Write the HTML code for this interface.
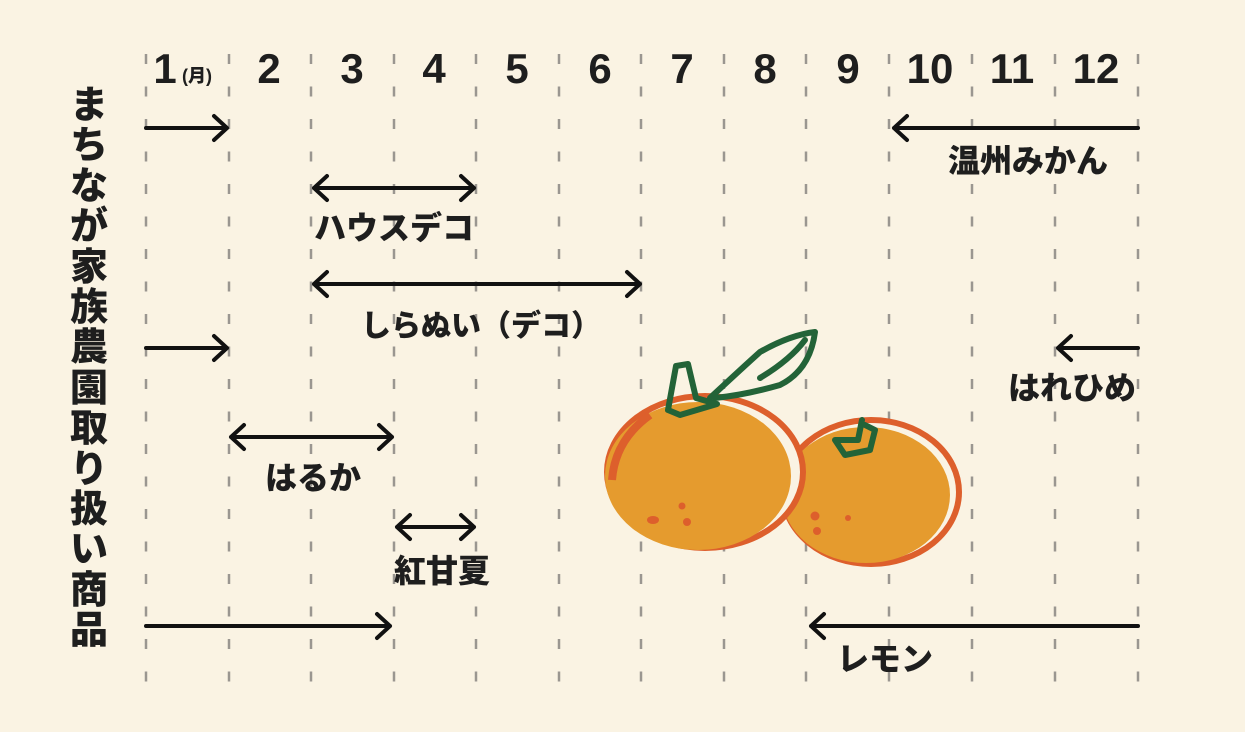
<!DOCTYPE html>
<html><head><meta charset="utf-8"><style>
html,body{margin:0;padding:0;background:#faf3e3;}
svg{display:block}
text{font-family:"Liberation Sans","Noto Sans CJK JP",sans-serif;font-weight:900;fill:#1e1e1e}
</style></head><body>
<svg width="1245" height="732" viewBox="0 0 1245 732" xmlns="http://www.w3.org/2000/svg">
<rect width="1245" height="732" fill="#faf3e3"/>
<g stroke="#9a9690" stroke-width="2.5" stroke-dasharray="10 22.5">
<line x1="146" y1="54" x2="146" y2="685"/><line x1="229" y1="54" x2="229" y2="685"/>
<line x1="311" y1="54" x2="311" y2="685"/><line x1="394" y1="54" x2="394" y2="685"/>
<line x1="476" y1="54" x2="476" y2="685"/><line x1="559" y1="54" x2="559" y2="685"/>
<line x1="641" y1="54" x2="641" y2="685"/><line x1="724" y1="54" x2="724" y2="685"/>
<line x1="806" y1="54" x2="806" y2="685"/><line x1="889" y1="54" x2="889" y2="685"/>
<line x1="972" y1="54" x2="972" y2="685"/><line x1="1055" y1="54" x2="1055" y2="685"/>
<line x1="1138" y1="54" x2="1138" y2="685"/>
</g>
<g font-size="42" text-anchor="middle">
<text x="165" y="83">1</text><text x="197" y="82" font-size="18">(月)</text>
<text x="269" y="83">2</text><text x="352" y="83">3</text><text x="434" y="83">4</text>
<text x="517" y="83">5</text><text x="600" y="83">6</text><text x="682" y="83">7</text>
<text x="765" y="83">8</text><text x="848" y="83">9</text><text x="930" y="83">10</text>
<text x="1012" y="83">11</text><text x="1096" y="83">12</text>
</g>
<g font-size="38" text-anchor="middle">
<text x="89" y="118">ま</text><text x="89" y="158">ち</text><text x="89" y="199">な</text><text x="89" y="239">が</text>
<text x="89" y="280">家</text><text x="89" y="320">族</text><text x="89" y="360">農</text><text x="89" y="401">園</text>
<text x="89" y="441">取</text><text x="89" y="482">り</text><text x="89" y="522">扱</text><text x="89" y="562">い</text>
<text x="89" y="603">商</text><text x="89" y="643">品</text>
</g>
<g stroke="#111" stroke-width="4" fill="none" stroke-linecap="round" stroke-linejoin="round">
<path d="M146 128H227M214 116L227 128L214 140"/>
<path d="M1138 128H894M907 116L894 128L907 140"/>
<path d="M314 188H474M327 176L314 188L327 200M461 176L474 188L461 200"/>
<path d="M314 284H640M327 272L314 284L327 296M627 272L640 284L627 296"/>
<path d="M146 348H227M214 336L227 348L214 360"/>
<path d="M1138 348H1058M1071 336L1058 348L1071 360"/>
<path d="M231 437H392M244 425L231 437L244 449M379 425L392 437L379 449"/>
<path d="M397 527H474M410 515L397 527L410 539M461 515L474 527L461 539"/>
<path d="M146 626H390M377 614L390 626L377 638"/>
<path d="M1138 626H811M824 614L811 626L824 638"/>
</g>
<g font-size="32" text-anchor="middle">
<text x="1028" y="172">温州みかん</text>
<text x="394" y="239">ハウスデコ</text>
<text x="481" y="336" font-size="30">しらぬい（デコ）</text>
<text x="1072" y="399">はれひめ</text>
<text x="313" y="489">はるか</text>
<text x="442" y="582">紅甘夏</text>
<text x="885" y="670">レモン</text>
</g>
<g>
<ellipse cx="871" cy="492" rx="88" ry="72" fill="#faf3e3" stroke="#dd5f2c" stroke-width="6"/>
<ellipse cx="866" cy="495" rx="84" ry="68" fill="#e59b2e"/>
<ellipse cx="705" cy="472" rx="98" ry="76" fill="#faf3e3" stroke="#dd5f2c" stroke-width="6"/>
<ellipse cx="698" cy="476" rx="93" ry="74" fill="#e59b2e"/>
<path d="M650 415Q615 440 612 480" stroke="#dd5f2c" stroke-width="8" fill="none"/>
<g fill="#dd5f2c"><ellipse cx="653" cy="520" rx="6" ry="4"/><circle cx="682" cy="506" r="3.5"/><circle cx="687" cy="522" r="4"/>
<circle cx="815" cy="516" r="4.5"/><circle cx="817" cy="531" r="4"/><circle cx="848" cy="518" r="3"/></g>
<g stroke="#236338" stroke-width="6" fill="none" stroke-linecap="round" stroke-linejoin="round">
<path d="M676 366L688 364L696 398L717 404L680 415L668 410Z"/>
<path d="M710 398Q740 370 760 352Q790 335 815 332Q810 370 780 385Q745 395 715 398"/>
<path d="M760 378Q790 360 805 340"/>
<path d="M862 420L858 440L835 440L845 455L860 452L870 450L875 430L865 425"/>
</g>
</g>
</svg>
</body></html>
